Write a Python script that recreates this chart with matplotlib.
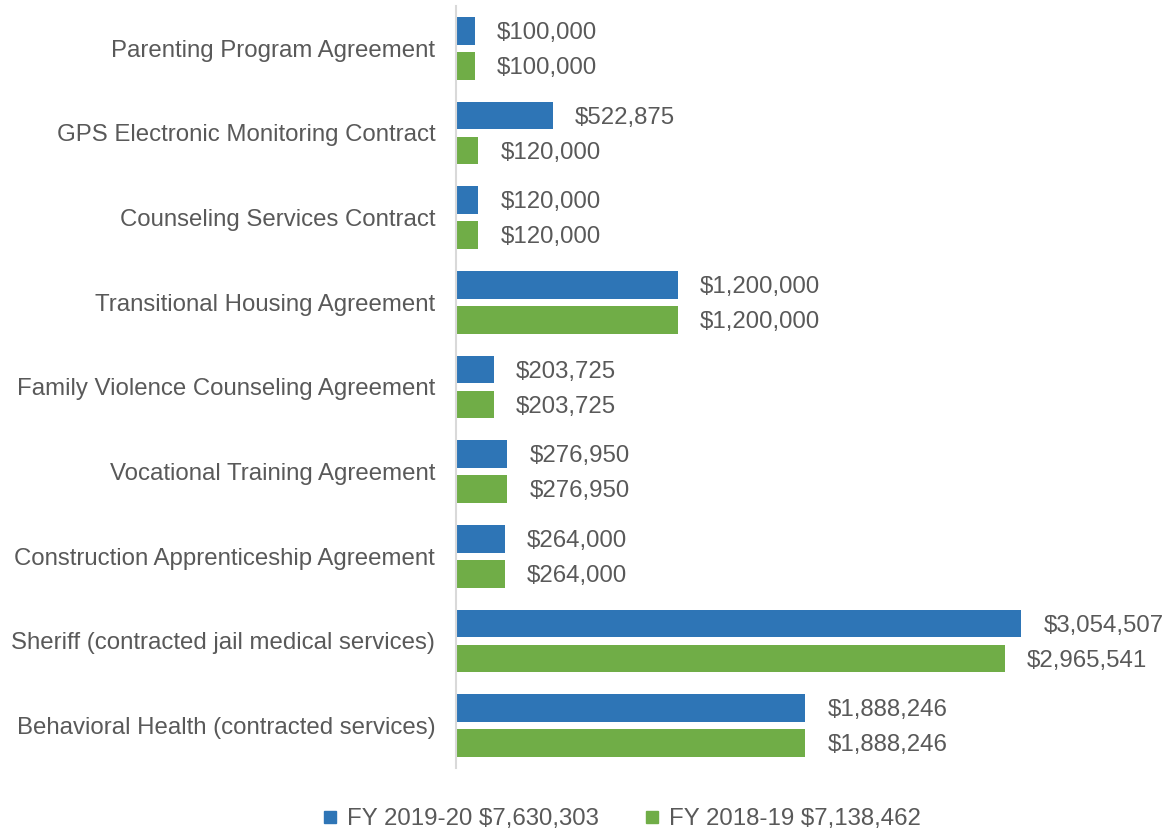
import matplotlib
matplotlib.use("Agg")
import matplotlib.pyplot as plt
from matplotlib.lines import Line2D

plt.rcParams['font.family'] = ['Liberation Sans', 'DejaVu Sans']

categories = [
    "Parenting Program Agreement",
    "GPS Electronic Monitoring Contract",
    "Counseling Services Contract",
    "Transitional Housing Agreement",
    "Family Violence Counseling Agreement",
    "Vocational Training Agreement",
    "Construction Apprenticeship Agreement",
    "Sheriff (contracted jail medical services)",
    "Behavioral Health (contracted services)",
]
fy2019_20 = [100000, 522875, 120000, 1200000, 203725, 276950, 264000, 3054507, 1888246]
fy2018_19 = [100000, 120000, 120000, 1200000, 203725, 276950, 264000, 2965541, 1888246]
legend_labels = ["FY 2019-20 $7,630,303", "FY 2018-19 $7,138,462"]

blue = "#2E75B6"
green = "#70AD47"
txt = "#595959"
fs = 17.3

fig = plt.figure(figsize=(11.69, 8.31), dpi=100)
ax = fig.add_axes([456/1169, 1-768/831, (1122-456)/1169, (768-6)/831])

y = list(range(len(categories)))
h = 0.33
off = 0.207
ax.barh([v - off for v in y], fy2019_20, height=h, color=blue)
ax.barh([v + off for v in y], fy2018_19, height=h, color=green)

for yi, v in zip(y, fy2019_20):
    ax.annotate(f"${v:,.0f}", (v, yi - off), xytext=(16, -1.5), textcoords="offset points",
                va="center", ha="left", fontsize=fs, color=txt)
for yi, v in zip(y, fy2018_19):
    ax.annotate(f"${v:,.0f}", (v, yi + off), xytext=(16, -1.5), textcoords="offset points",
                va="center", ha="left", fontsize=fs, color=txt)

ax.set_xlim(0, 3.6e6)
ax.set_ylim(len(categories) - 0.5, -0.5)
ax.set_yticks(y)
ax.set_yticklabels(categories, fontsize=fs, color=txt)
ax.tick_params(axis='y', length=0, pad=15)
ax.set_xticks([])
for s in ["top", "right", "bottom"]:
    ax.spines[s].set_visible(False)
ax.spines["left"].set_color("#D9D9D9")
ax.spines["left"].set_linewidth(1.5)

handles = [Line2D([], [], marker='s', linestyle='none', color=blue, markersize=8.6),
           Line2D([], [], marker='s', linestyle='none', color=green, markersize=8.6)]
fig.legend(handles, legend_labels, loc="center", bbox_to_anchor=(0.53, 1-819/831),
           ncol=2, frameon=False, fontsize=fs, labelcolor=txt, handletextpad=0.2,
           columnspacing=1.7, handlelength=1.0)

fig.savefig("out.png", dpi=100)
